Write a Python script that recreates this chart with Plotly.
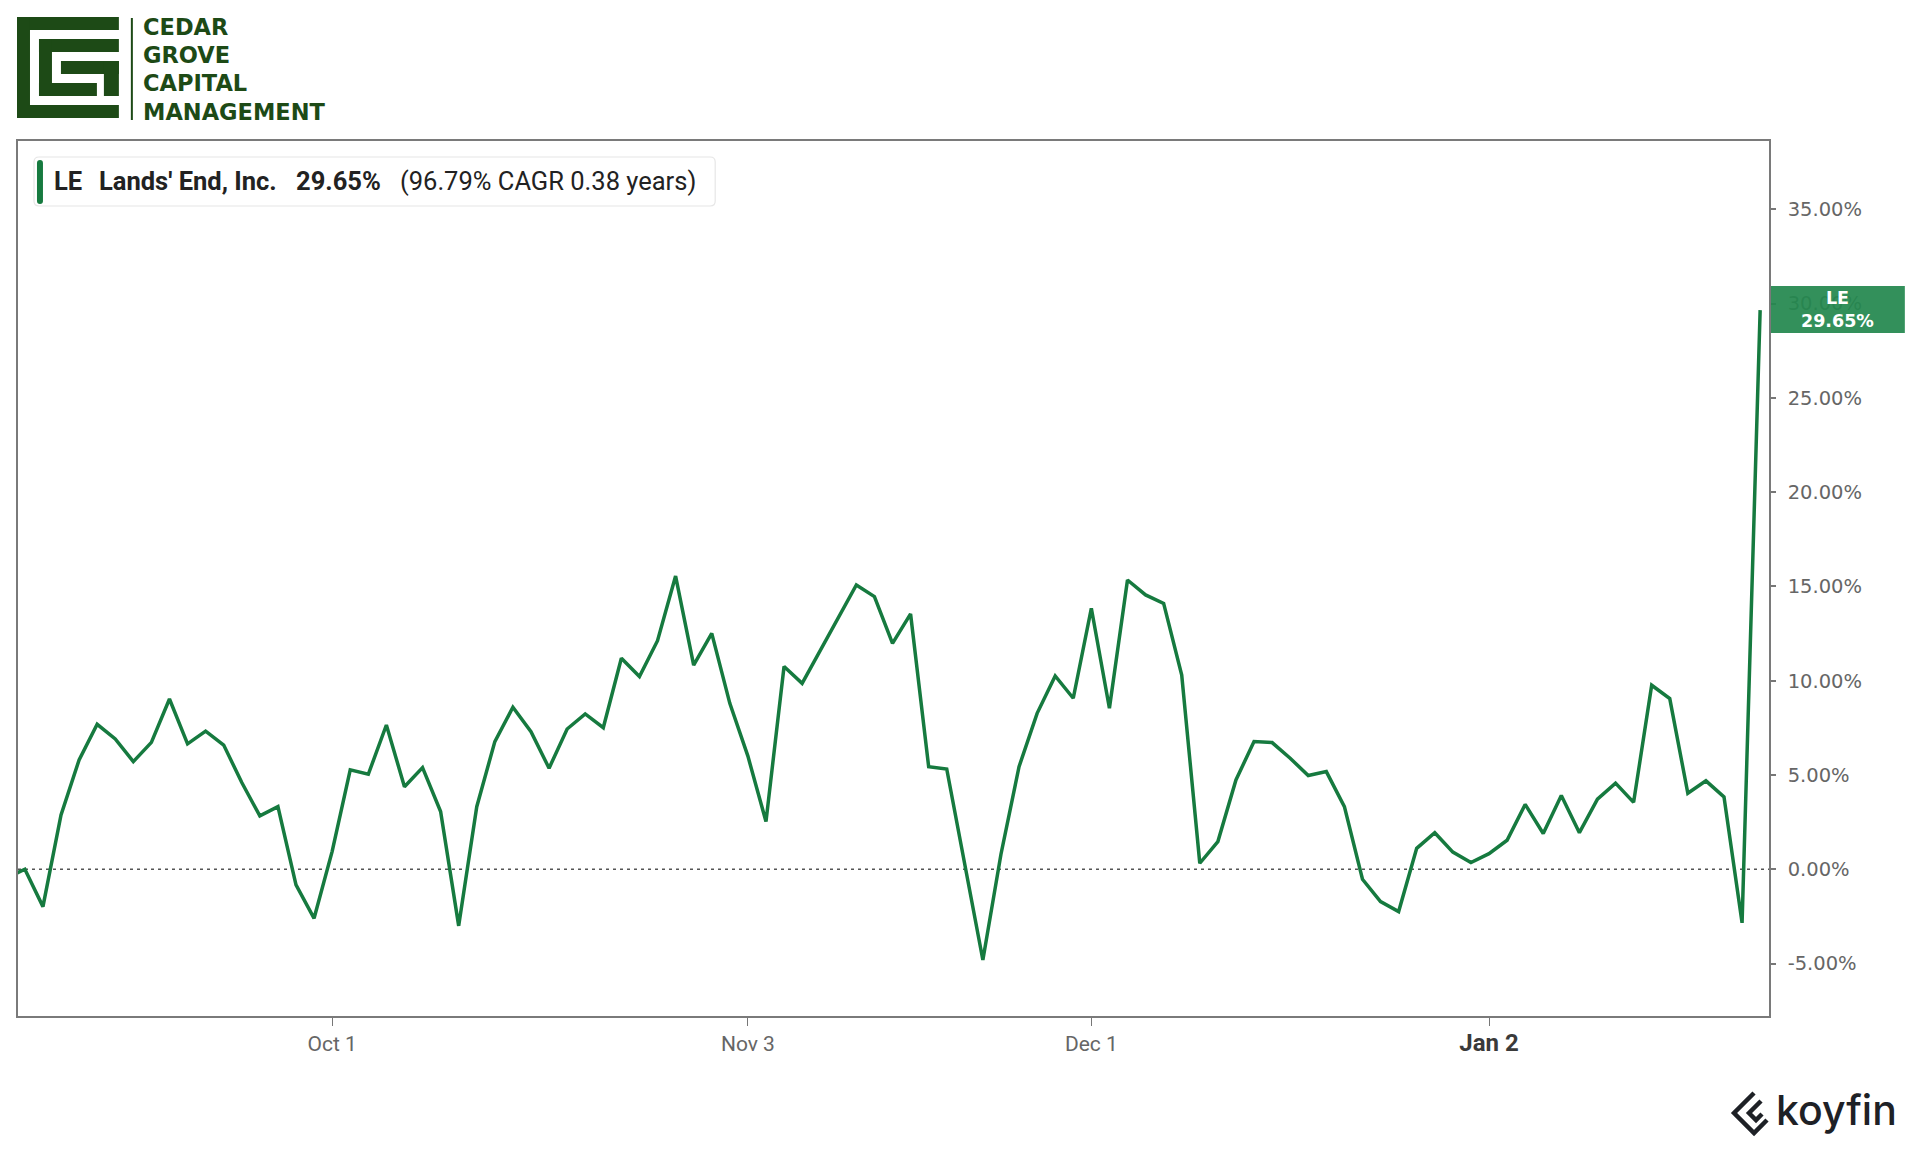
import pandas as pd
import plotly.graph_objects as go

# ---------------- data ----------------
holidays = ["2025-11-27", "2025-12-25", "2026-01-01", "2026-01-19"]
dates = [d.strftime("%Y-%m-%d") for d in pd.bdate_range("2025-09-05", "2026-01-26")
         if d.strftime("%Y-%m-%d") not in holidays]

returns_pct = [
    -0.45, 0.00, -1.98, 2.88, 5.80, 7.69, 6.91, 5.71, 6.73, 9.03,
    6.65, 7.33, 6.59, 4.60, 2.83, 3.32, -0.83, -2.60, 0.95, 5.27,
    5.04, 7.65, 4.38, 5.39, 3.06, -3.00, 3.32, 6.77, 8.59, 7.30,
    5.36, 7.44, 8.24, 7.51, 11.19, 10.22, 12.12, 15.55, 10.83, 12.51,
    8.80, 6.00, 2.53, 10.75, 9.86, 11.60, 13.40, 15.08, 14.46, 11.98,
    13.54, 5.44, 5.32, 0.30, -4.81, 0.80, 5.44, 8.27, 10.25, 9.07,
    13.84, 8.54, 15.34, 14.55, 14.10, 10.30, 0.32, 1.47, 4.74, 6.77,
    6.72, 5.89, 4.97, 5.18, 3.32, -0.53, -1.71, -2.24, 1.11, 1.94,
    0.91, 0.36, 0.83, 1.54, 3.44, 1.90, 3.91, 1.94, 3.72, 4.57,
    3.55, 9.76, 9.05, 4.03, 4.69, 3.84, -2.84, 29.65,
]

x_tick_dates = ["2025-10-01", "2025-11-03", "2025-12-01", "2026-01-02"]
x_tick_labels = ["Oct 1", "Nov 3", "Dec 1",
                 "<span style='color:#3a3a3a;font-size:24px'><b>Jan 2</b></span>"]
y_tick_values = [-5, 0, 5, 10, 15, 20, 25, 30, 35]
y_tick_labels = ["-5.00%", "0.00%", "5.00%", "10.00%", "15.00%", "20.00%", "25.00%", "30.00%", "35.00%"]

ticker = "LE"
company = "Lands' End, Inc."
last_return = "29.65%"
cagr_text = "(96.79% CAGR 0.38 years)"
logo_lines = ["CEDAR", "GROVE", "CAPITAL", "MANAGEMENT"]

# ---------------- layout geometry ----------------
W, H = 1920, 1152
OFF = 8  # page body margin; positions below are page pixels
PLOT_L, PLOT_R, PLOT_T, PLOT_B = 16, 1769, 141, 1016
L = PLOT_L - OFF
T = PLOT_T - OFF
R = W - (PLOT_R - OFF)
B = H - (PLOT_B - OFF)
PW, PH = W - L - R, H - T - B

def xp(px):
    return (px - PLOT_L) / PW

def yp(py):
    return (PLOT_B - py) / PH

LINE_GREEN = "#167a3f"
LABEL_GREEN = "#24884f"
LOGO_GREEN = "#1d4a16"

fig = go.Figure()
fig.add_trace(go.Scatter(
    x=dates, y=returns_pct, mode="lines",
    line=dict(color=LINE_GREEN, width=3.5),
    hoverinfo="skip", showlegend=False,
))

shapes = []
shapes.append(dict(type="line", xref="paper", yref="y", x0=0, x1=1, y0=0, y1=0,
                   line=dict(color="#555555", width=1.6, dash="3px,4px"), layer="below"))

def rrect(x0, y0, x1, y1, r):
    rx, ry = r / PW, r / PH
    X0, X1 = xp(x0), xp(x1)
    Y0, Y1 = yp(y0), yp(y1)
    return (f"M {X0+rx},{Y0} L {X1-rx},{Y0} Q {X1},{Y0} {X1},{Y0-ry} "
            f"L {X1},{Y1+ry} Q {X1},{Y1} {X1-rx},{Y1} L {X0+rx},{Y1} "
            f"Q {X0},{Y1} {X0},{Y1+ry} L {X0},{Y0-ry} Q {X0},{Y0} {X0+rx},{Y0} Z")

# legend box
shapes.append(dict(type="path", xref="paper", yref="paper", path=rrect(32, 157, 714, 206, 5),
                   fillcolor="white", line=dict(color="#e6e6e6", width=1.2), layer="above"))
shapes.append(dict(type="path", xref="paper", yref="paper", path=rrect(35, 160, 41, 204, 3),
                   fillcolor=LINE_GREEN, line=dict(width=0), layer="above"))

# logo graphic
logo_rects = [
    (15, 17, 117, 30), (15, 17, 28, 118), (15, 105, 117, 118),
    (37, 39, 117, 52), (37, 39, 50, 96), (37, 83, 95, 96),
    (59, 61, 117, 74), (102, 61, 117, 96),
]
for (a, b, c, d) in logo_rects:
    shapes.append(dict(type="rect", xref="paper", yref="paper",
                       x0=xp(a), x1=xp(c), y0=yp(d), y1=yp(b),
                       fillcolor=LOGO_GREEN, line=dict(width=0), layer="above"))
shapes.append(dict(type="line", xref="paper", yref="paper", x0=xp(130), x1=xp(130),
                   y0=yp(18), y1=yp(120), line=dict(color=LOGO_GREEN, width=2)))

# end-of-line value label box
shapes.append(dict(type="rect", xref="paper", yref="paper", x0=xp(1771), x1=xp(1905),
                   y0=yp(333), y1=yp(286), fillcolor=LABEL_GREEN, opacity=0.93,
                   line=dict(width=0), layer="above"))

# koyfin icon
def pth(points):
    return "M " + " L ".join(f"{xp(a)},{yp(b)}" for a, b in points)

shapes.append(dict(type="path", xref="paper", yref="paper",
                   path=pth([(1754, 1093), (1734, 1113), (1754, 1133), (1767, 1120)]),
                   line=dict(color="#1e2126", width=4.5)))
shapes.append(dict(type="path", xref="paper", yref="paper",
                   path=pth([(1761, 1101), (1749, 1113), (1756, 1120), (1762, 1114)]),
                   line=dict(color="#1e2126", width=4.5)))

annotations = []
leg_y = yp(181)
for txt, px, bold in [(ticker, 50, True), (company, 95, True), (last_return, 292, True), (cagr_text, 396, False)]:
    annotations.append(dict(xref="paper", yref="paper", x=xp(px), y=leg_y, xanchor="left", yanchor="middle",
                            text=f"<b>{txt}</b>" if bold else txt, showarrow=False,
                            font=dict(family="Roboto", size=25.5, color="#222222")))

for i, line in enumerate(logo_lines):
    annotations.append(dict(xref="paper", yref="paper", x=xp(139), y=yp(27 + 28.2 * i),
                            xanchor="left", yanchor="middle", text=f"<b>{line}</b>", showarrow=False,
                            font=dict(family="DejaVu Sans", size=22.5, color=LOGO_GREEN)))

annotations.append(dict(xref="paper", yref="paper", x=xp(1838), y=yp(309.5), xanchor="center", yanchor="middle",
                        text=f"<b>{ticker}</b><br><b>{last_return}</b>", showarrow=False,
                        font=dict(family="DejaVu Sans", size=17.5, color="white")))

annotations.append(dict(xref="paper", yref="paper", x=xp(1774), y=yp(1110), xanchor="left", yanchor="middle",
                        text="koyfin", showarrow=False,
                        font=dict(family="Inter", size=41, color="#1e2126", weight=500)))

fig.update_layout(
    width=W, height=H, autosize=False,
    margin=dict(l=L, r=R, t=T, b=B, pad=0),
    paper_bgcolor="white", plot_bgcolor="white",
    shapes=shapes, annotations=annotations,
    showlegend=False,
    xaxis=dict(
        type="category", range=[0.62, 97.49],
        tickmode="array", tickvals=x_tick_dates, ticktext=x_tick_labels,
        ticks="outside", ticklen=8, tickwidth=1.2, tickcolor="#777777",
        showgrid=False, zeroline=False,
        showline=True, linecolor="#7a7a7a", linewidth=1.5, mirror=True,
        tickfont=dict(family="Roboto", size=21, color="#666666"),
        ticklabelstandoff=0,
    ),
    yaxis=dict(
        side="right", range=[-7.78, 38.62],
        tickmode="array", tickvals=y_tick_values, ticktext=y_tick_labels,
        ticks="outside", ticklen=5, tickwidth=2, tickcolor="#777777",
        showgrid=False, zeroline=False,
        showline=True, linecolor="#7a7a7a", linewidth=1.5, mirror=True,
        tickfont=dict(family="DejaVu Sans", size=19.5, color="#666666"),
        ticklabelstandoff=8,
    ),
)

fig.write_html("out.html")
